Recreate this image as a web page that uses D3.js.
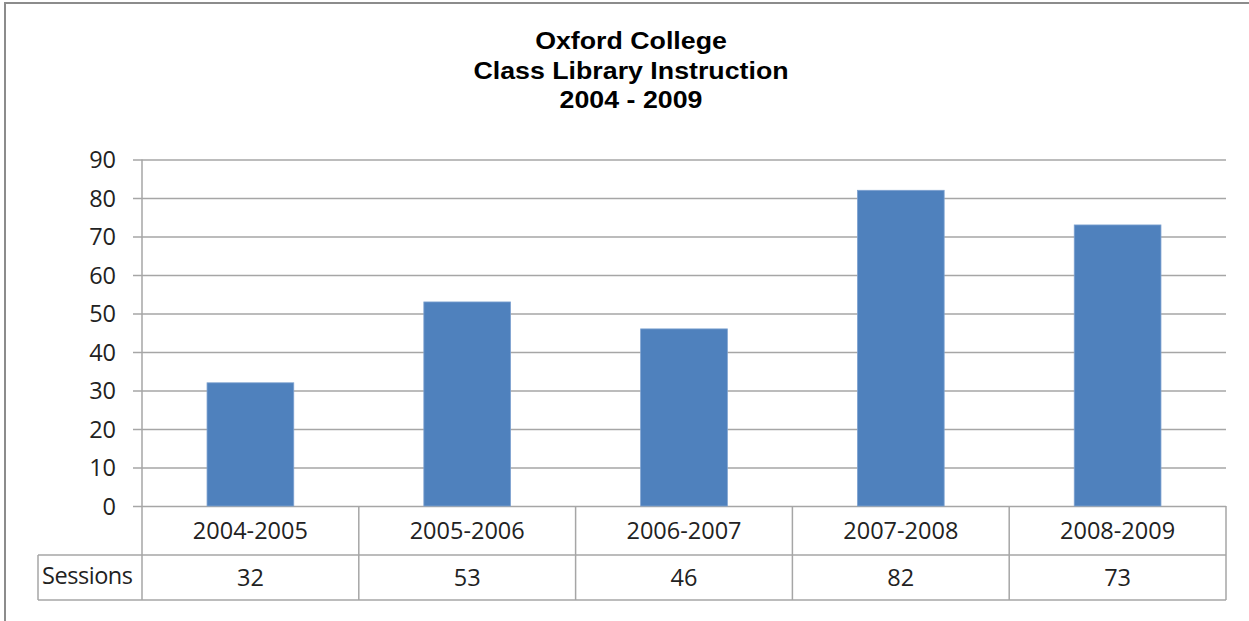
<!DOCTYPE html>
<html><head><meta charset="utf-8">
<script src="https://cdn.jsdelivr.net/npm/d3@7"></script>
<style>body{margin:0;background:#fff}svg{display:block}</style>
</head><body>
<script>
const categories = ["2004-2005","2005-2006","2006-2007","2007-2008","2008-2009"];
const sessions = [32,53,46,82,73];
const seriesName = "Sessions";
const titleLines = ["Oxford College","Class Library Instruction","2004 - 2009"];
const yTicks = [0,10,20,30,40,50,60,70,80,90];

(function(){
const W=1249,H=621;
const pL=142,pR=1226,pT=159.5,pB=506;
const row1=555,row2=600,labelLeft=38;
const svg=d3.select("body").append("svg").attr("width",W).attr("height",H);
const grid="#A6A6A6";

svg.append("rect").attr("x",5).attr("y",3).attr("width",1300).attr("height",700)
  .attr("fill","none").attr("stroke","#8c8c8c").attr("stroke-width",2);

const x=d3.scaleBand().domain(categories).range([pL,pR]).paddingInner(0.6).paddingOuter(0.3);
const xc=d3.scaleBand().domain(categories).range([pL,pR]);
const y=d3.scaleLinear().domain([0,90]).range([pB,pT]);

const yAxis=d3.axisLeft(y).tickValues(yTicks).tickSize(-(pR-pL)).tickSizeOuter(0).tickPadding(26);
const gy=svg.append("g").attr("transform",`translate(${pL},0)`).call(yAxis);
gy.select(".domain").remove();
gy.selectAll(".tick line").attr("stroke",grid).attr("stroke-width",1.5).attr("x1",-9);
gy.selectAll(".tick text").attr("font-family","Open Sans").attr("font-size",23.5).attr("fill","#222").attr("dy","0.34em");

svg.append("g").selectAll("rect").data(categories).join("rect")
  .attr("x",d=>x(d)).attr("width",x.bandwidth())
  .attr("y",(d,i)=>y(sessions[i])).attr("height",(d,i)=>y(0)-y(sessions[i]))
  .attr("fill","#4F81BD").attr("stroke","#7EA2D0").attr("stroke-width",0.8);

svg.append("line").attr("x1",pL).attr("x2",pL).attr("y1",pT).attr("y2",row2).attr("stroke",grid).attr("stroke-width",1.5);

const t=svg.append("g").attr("stroke",grid).attr("stroke-width",1.5);
t.append("line").attr("x1",labelLeft).attr("x2",pR).attr("y1",row1).attr("y2",row1);
t.append("line").attr("x1",labelLeft).attr("x2",pR).attr("y1",row2).attr("y2",row2);
t.append("line").attr("x1",labelLeft).attr("x2",labelLeft).attr("y1",row1).attr("y2",row2);
t.selectAll(".v").data(categories).join("line")
  .attr("x1",d=>xc(d)+xc.bandwidth()).attr("x2",d=>xc(d)+xc.bandwidth()).attr("y1",pB).attr("y2",row2);

const tf={"font-family":"Open Sans","font-size":23.5,"fill":"#222"};
const txt=(sel)=>{for(const k in tf) sel.attr(k,tf[k]); return sel;};
txt(svg.append("g").selectAll("text").data(categories).join("text")
  .attr("x",d=>xc(d)+xc.bandwidth()/2).attr("y",(pB+row1)/2).attr("dy","0.35em")
  .attr("text-anchor","middle").text(d=>d));
txt(svg.append("g").selectAll("text").data(sessions).join("text")
  .attr("x",(d,i)=>xc(categories[i])+xc.bandwidth()/2).attr("y",(row1+row2)/2).attr("dy","0.35em")
  .attr("text-anchor","middle").text(d=>d));
txt(svg.append("text").attr("x",labelLeft+4).attr("y",(row1+row2)/2-2).attr("dy","0.35em").attr("textLength",91).text(seriesName));

svg.append("g").attr("transform","translate(631,0) scale(1.115,1)")
  .selectAll("text").data(titleLines).join("text")
  .attr("x",0).attr("y",(d,i)=>41+i*29.5).attr("dy","0.35em").attr("text-anchor","middle")
  .attr("font-family","Liberation Sans, Arial").attr("font-weight","bold").attr("font-size",24).attr("fill","#000")
  .text(d=>d);
})();
</script>
</body></html>
